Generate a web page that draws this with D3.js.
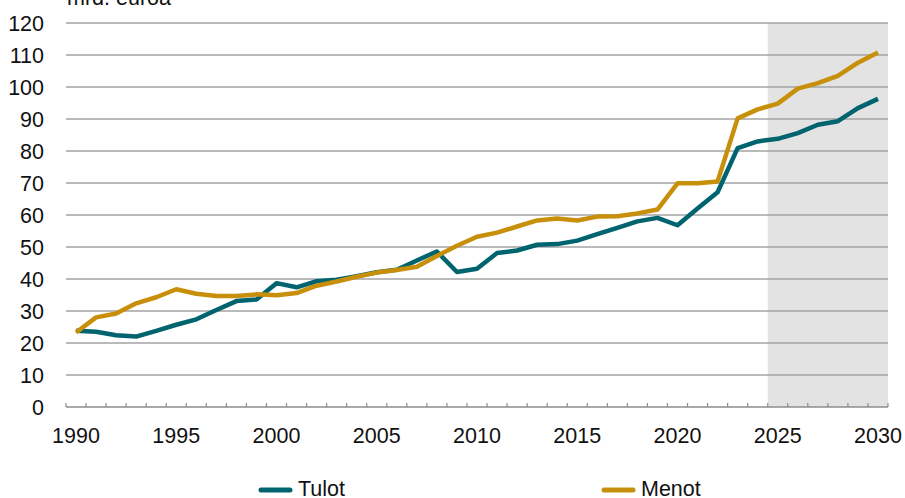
<!DOCTYPE html>
<html>
<head>
<meta charset="utf-8">
<script src="https://cdn.jsdelivr.net/npm/d3@7/dist/d3.min.js"></script>
<style>
  body { margin: 0; background: #fff; }
  svg { display: block; font-family: "Liberation Sans", Arial, sans-serif; }
</style>
</head>
<body>
<div id="chart"></div>
<script>
// years on the category axis
var years = d3.range(1990, 2031);

// mrd. euroa
var tulot = [23.8, 23.5, 22.4, 22.0, 23.8, 25.7, 27.4, 30.3, 33.1, 33.6,
             38.7, 37.4, 39.3, 39.8, 40.9, 42.1, 42.9, 45.8, 48.6, 42.2,
             43.2, 48.1, 48.9, 50.7, 50.9, 52.0, 54.0, 56.0, 58.0, 59.1,
             56.8, 62.0, 67.1, 80.9, 83.0, 83.8, 85.6, 88.2, 89.3, 93.4,
             96.3];
var menot = [23.3, 28.0, 29.2, 32.4, 34.3, 36.8, 35.4, 34.7, 34.7, 35.2,
             34.9, 35.6, 37.9, 39.2, 40.7, 42.0, 42.8, 43.8, 47.2, 50.4,
             53.2, 54.5, 56.4, 58.3, 58.9, 58.3, 59.5, 59.6, 60.5, 61.7,
             69.9, 69.9, 70.5, 90.2, 93.0, 94.8, 99.5, 101.2, 103.5, 107.6,
             110.8];
var yTicks = d3.range(0, 121, 10);
var xLabels = [1990, 1995, 2000, 2005, 2010, 2015, 2020, 2025, 2030];
var forecastFrom = 2025;

var width = 905, height = 498;
var tealCol = "#00646f", goldCol = "#c8900a";
var gridCol = "#a3a3a3";

var svg = d3.select("#chart").append("svg")
    .attr("width", width)
    .attr("height", height);

var x = d3.scaleBand().domain(years).range([66, 888]).padding(0);
var y = d3.scaleLinear().domain([0, 120]).range([407, 23]);

// forecast shading
svg.append("rect")
    .attr("x", x(forecastFrom))
    .attr("y", y(120))
    .attr("width", x.range()[1] - x(forecastFrom))
    .attr("height", y(0) - y(120))
    .attr("fill", "#e3e3e3");

// gridlines
svg.append("g").selectAll("line")
    .data(yTicks.filter(function(d) { return d > 0; }))
  .enter().append("line")
    .attr("x1", 66).attr("x2", 888)
    .attr("y1", function(d) { return y(d); })
    .attr("y2", function(d) { return y(d); })
    .attr("stroke", gridCol)
    .attr("stroke-width", 1.3);

// y labels
svg.append("g").selectAll("text")
    .data(yTicks)
  .enter().append("text")
    .attr("x", 44)
    .attr("y", function(d) { return y(d) + 7.5; })
    .attr("text-anchor", "end")
    .attr("font-size", "21.5px")
    .attr("fill", "#111")
    .text(function(d) { return d; });

// unit label, cut at the top like the original
svg.append("text")
    .attr("x", 67)
    .attr("y", 5)
    .attr("font-size", "21.5px")
    .attr("fill", "#111")
    .text("mrd. euroa");

// x axis line and tick marks (band boundaries, pointing up)
svg.append("line")
    .attr("x1", 66).attr("x2", 888)
    .attr("y1", y(0)).attr("y2", y(0))
    .attr("stroke", "#8c8c8c")
    .attr("stroke-width", 1.3);

var bounds = years.map(function(d) { return x(d); }).concat([x.range()[1]]);
svg.append("g").selectAll("line")
    .data(bounds)
  .enter().append("line")
    .attr("x1", function(d) { return d; })
    .attr("x2", function(d) { return d; })
    .attr("y1", y(0)).attr("y2", y(0) - 4)
    .attr("stroke", "#8c8c8c")
    .attr("stroke-width", 1.2);

svg.append("g").selectAll("text")
    .data(xLabels)
  .enter().append("text")
    .attr("x", function(d) { return x(d) + x.bandwidth() / 2; })
    .attr("y", 443)
    .attr("text-anchor", "middle")
    .attr("font-size", "21.5px")
    .attr("fill", "#111")
    .text(function(d) { return d; });

// lines
var line = d3.line()
    .x(function(d, i) { return x(years[i]) + x.bandwidth() / 2; })
    .y(function(d) { return y(d); });

svg.append("path")
    .datum(tulot)
    .attr("d", line)
    .attr("fill", "none")
    .attr("stroke", tealCol)
    .attr("stroke-width", 4.5)
    .attr("stroke-linejoin", "round");

svg.append("path")
    .datum(menot)
    .attr("d", line)
    .attr("fill", "none")
    .attr("stroke", goldCol)
    .attr("stroke-width", 4.5)
    .attr("stroke-linejoin", "round");

// legend
var legend = [
  {name: "Tulot", col: tealCol, x: 261},
  {name: "Menot", col: goldCol, x: 604}
];
var lg = svg.append("g").selectAll("g")
    .data(legend)
  .enter().append("g");
lg.append("line")
    .attr("x1", function(d) { return d.x; })
    .attr("x2", function(d) { return d.x + 29; })
    .attr("y1", 490).attr("y2", 490)
    .attr("stroke", function(d) { return d.col; })
    .attr("stroke-width", 5)
    .attr("stroke-linecap", "round");
lg.append("text")
    .attr("x", function(d) { return d.x + 37; })
    .attr("y", 496)
    .attr("font-size", "21.5px")
    .attr("fill", "#111")
    .text(function(d) { return d.name; });
</script>
</body>
</html>
